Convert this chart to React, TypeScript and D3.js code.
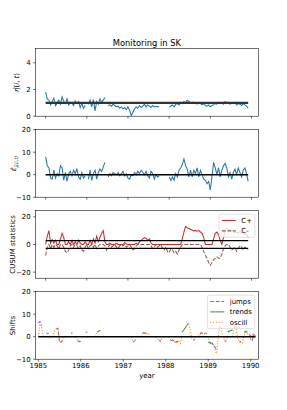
import React from "react";
import * as d3 from "d3";

const _ = null;

// upper three panels share a weekly index (every 2nd week kept)
const nWeeks = 247;
const weekIdx = d3.range(0, nWeeks, 2);
const weekTicks = [0, 50, 100, 150, 200, 250];

const etaHat = [
  1.8, 1.3, 1.2, 0.85, 1.1, 1.35, 0.8, 1.0, 1.2, 0.9, 1.45, 1.1, 0.95, 1.3, 0.85, 1.05, 1.0, 0.8, 1.15, 0.95, 1.1, 0.65, 0.95, 0.6,
  0.8, _,
  0.9, 1.2, 0.7, 1.25, 0.4, 1.1, 0.9, 1.3, 1.05, 1.2, 1.4,
  _,
  0.8, 0.85, 0.75, 0.9, 0.8, 0.7, 0.75, 0.6, 0.7, 0.55, 0.65, 0.5, 0.7, 0.45, 0.05, 0.3, 0.55, 0.7, 0.6, 0.8, 0.65, 0.75, 0.9, 0.7, 0.85, 0.75, 0.65, 0.8, 0.7, 0.75, 0.7, 0.72,
  _, _, _, _, _,
  0.7, 0.75, 0.85, 0.7, 0.9, 0.95, 0.85, 1.05, 0.95, 1.1, 1.0, 1.2, 1.1, 1.0, 1.05, 0.95, 1.0, 0.9, 1.0, 0.95,
  0.85, 0.95, 0.8, 0.75, 0.85, 0.7, 0.8, 0.85, 0.95, 0.9, 1.05, 0.95, 1.0, 0.9, 1.1, 1.0, 1.05, 0.9, 1.0, 0.95,
  1.05, 0.85, 0.95, 0.9, 0.8, 0.95, 0.85, 0.75, 0.6,
];

const epsHat = [
  8.0, 4.0, 3.0, -1.5, -2.0, 2.0, -1.5, 0.5, -0.5, 4.0, 3.0, -2.5, 1.0, -3.0, 0.5, 1.5, -0.5, 2.0, 0.5, 2.5, -1.0, -2.0, 1.0, -1.5,
  -0.5, _,
  -2.0, 2.0, -2.5, 0.5, 2.0, -2.0, 1.0, 2.5, 1.5, 3.5, 5.5,
  _,
  -1.0, 0.5, -0.5, 1.0, 0.5, 0.0, 1.0, -0.5, 0.5, 1.5, -0.5, 0.5, -1.5, -2.0, 0.0, -0.5, 1.0, 0.0, 1.5, 0.5, 2.0, 1.0, 0.0, 1.5, -0.5, -1.5, 1.5, 0.5, -2.0, 0.0, -1.0, -0.5,
  _, _, _, _, _,
  -1.0, -2.5, -1.0, -2.5, 0.5, -1.0, 2.0, 3.0, 4.5, 7.0, 4.0, 2.5, -1.0, 2.0, -1.0, 2.0, 0.5, 3.0, -1.0, 2.0,
  0.0, -2.0, -2.5, -4.0, -3.0, -6.8, -1.0, 5.5, 3.0, 0.0, 3.0, -1.0, 2.0, 4.0, 5.0, 3.0, -1.0, 1.0, -2.0, 1.0,
  2.5, 0.0, 3.0, 1.0, -1.0, 2.0, 3.0, 0.5, -3.0,
];

const cPlus = [
  0, 6, 10, 1, 3.5, 1, 3, 0, 0, 4,
  8, 5, 0, 0, 2, 0, 3, 0, 2, 0,
  3, 1, 0, 0, 2, 0, 0, 3, 0, 4,
  1, 6, 2, 5, 8, 10, 2, 0, 0, 1,
  0, 0, 0, 1, 0, 0, 0, 0, 1.5, 0.5,
  0, 0, 0, 0, 0, 1, 0, 2, 3, 4,
  5, 4.5, 3, 4, 1, 0, 0, 0, 0, 0,
  0, 0, 0, 0, 0, 0, 0, 0, 0, 0,
  0, 0, 0, 4, 9, 13, 12, 11.5, 11, 10.5,
  10, 10, 9.5, 10, 9, 8, 5, 0, 0, 0,
  0, 0, 4, 8, 9, 7, 3, 0, 5, 10,
  12, 11, 10, 10.5, 9, 8.5, 9, 8, 9.5, 8,
  9, 7, 8, 5,
];

const cMinus = [
  -8, -2, 0, -3, 0, -2, 0, -1, -3, 0,
  0, -2, -5, -6, -4, -1, 0, -2, 0, -1,
  -3, -1, -4, -5, -2, 0, -3, -1, 0, -2,
  0, -3, -1, 0, 0, 0, -1, -4, -2, 0,
  -2, -1, 0, -2, -3, -1, 0, -1, 0, -2,
  -1, 0, -2, -4, -3, -1, 0, 0, 0, 0,
  0, 0, 0, 0, -1, -3, -2, 0, -2, -1,
  0, -3, -4, -2, -5, -6, -3, -4, -6, -5,
  -7, -4, -2, 0, 0, 0, 0, 0, 0, 0,
  0, 0, 0, 0, 0, -2, -5, -8, -10, -13,
  -15, -13, -11, -10, -9, -10, -10, -7, -3, -1,
  0, 0, -2, -4, -3, -2, -5, -3, -1, -2,
  -4, -2, -3, -4,
];
const cusumLimit = 2.8;

// bottom panel: biweekly grid in decimal years
const shiftYears = d3.range(134).map(k => 1985 + (k * 2) / 52);
const yearTicks = [1985, 1986, 1987, 1988, 1989, 1990];

const jumps = [
  6.0, 6.8, 5.0, _, _, 1.8, 1.2, _, _, _,
  _, 3.5, 3.8, -2.5, -2.2, -1.8, _, _, _, _,
  1.5, 1.6, _, _, -1.8, -2.3, -2.0, _, _, 1.8,
  2.2, _, _, _, _, _, _, _, _, _,
  _, _, _, _, _, _, _, _, _, _,
  _, _, _, _, _, _, _, _, -2.5, -1.8,
  -1.0, _, _, _, 2.0, 1.5, 1.8, 1.2, _, _,
  _, _, _, _, -1.5, -2.2, _, _, _, _,
  _, -1.8, -1.5, -1.8, -2.5, -2.0, -2.8, _, _, _,
  _, 5.0, 5.8, _, _, -1.5, -1.2, _, _, 1.0,
  1.8, 1.2, 1.5, 1.5, _, -2.5, -3.0, -3.5, -4.5, -5.5,
  _, 4.5, 3.8, _, -1.8, -2.2, _, _, _, _,
  4.2, 4.8, _, -2.5, -2.0, _, _, _, _, 1.0,
  0.5, -1.5, 1.0, 0.5,
];

const trends = [
  _, _, _, _, _, _, _, _, _, _,
  _, _, _, _, _, _, _, _, _, _,
  _, _, _, _, _, _, _, _, _, _,
  _, _, _, _, _, _, 2.0, 2.5, 2.8, _,
  _, _, _, _, _, _, _, _, _, _,
  _, _, _, _, _, _, _, _, _, _,
  _, _, _, _, _, _, _, _, _, _,
  _, _, _, _, _, _, _, _, _, _,
  _, _, _, _, _, _, _, _, 2.0, 3.0,
  4.0, 5.0, _, _, _, _, _, _, _, _,
  _, _, _, _, -2.5, -2.8, -3.0, -2.8, _, _,
  _, _, _, _, _, _, 2.0, 2.5, 2.8, 3.0,
  _, _, _, _, _, _, 2.0, 2.5, 2.0, _,
  _, _, _, _,
];

const oscill = [
  0, 5.0, 4.0, 0, _, 0, 2.0, -1.0, _, 0,
  3.0, 3.5, 3.8, -2.0, -2.5, -1.5, 0, _, _, _,
  _, _, _, 0, -1.5, -2.0, -1.8, _, _, _,
  _, _, _, _, _, 0, 2.5, _, _, _,
  _, _, _, _, _, _, _, _, _, _,
  _, _, _, _, _, _, _, 0, -2.5, _,
  _, _, _, 0, 2.0, 1.5, 1.2, 1.5, 1.0, _,
  _, _, 0, -1.0, -1.5, -2.0, 0, _, _, _,
  0, -1.5, -1.2, -2.0, -2.8, -2.5, -2.0, -3.0, 0.5, _,
  _, 5.5, 6.0, 3.0, -1.0, -1.5, 0, 0, 0.5, 1.5,
  2.0, 1.0, 1.5, 1.5, -1.0, -2.5, -3.0, -3.0, -5.0, -7.5,
  -2.0, 5.0, 4.0, 0, -1.5, -1.5, 0, _, _, 0,
  4.0, 4.5, -1.0, -2.0, -2.5, -3.0, 0.5, 2.0, 1.5, 0.5,
  -1.0, 1.5, -1.5, _,
];

const W = 287;
const H = 410;
const left = 35.5;
const right = 258.3;
const pt = 50 / 72; // figure drawn at 50 dpi
const font = "DejaVu Sans, sans-serif";
const fs = 10 * pt;
const tickLen = 3.5 * pt;
const lw = 1.5 * pt;
const dashed = `${3.7 * lw} ${1.6 * lw}`;
const dotted = `${1 * lw} ${1.65 * lw}`;

const blue = "#1f77b4";
const red = "#d62728";
const brown = "#8c564b";
const purple = "#9467bd";
const green = "#2ca02c";
const orange = "#ff7f0e";

const tops = [48.7, 129.7, 210.7, 291.7];
const ph = 67.5;

const xIdx = d3
  .scaleLinear()
  .domain([-0.05 * (nWeeks - 1), (nWeeks - 1) * 1.05])
  .range([left, right]);
const xYear = d3.scaleLinear().domain([1984.934, 1990.18]).range([left, right]);

const fmt = (v: number) => d3.format("d")(v);

type LineSpec = { xs: number[]; ys: (number | null)[]; color: string; dash?: string; width?: number };

const Panel = ({ i, yDomain, yTicks, x, xTicks, xLabels, lines, hlines, ylabel, legend }: any) => {
  const top = tops[i];
  const bottom = top + ph;
  const y = d3.scaleLinear().domain(yDomain).range([bottom, top]);
  const clipId = `clip${i}`;
  return (
    <g>
      <defs>
        <clipPath id={clipId}>
          <rect x={left} y={top} width={right - left} height={ph} />
        </clipPath>
      </defs>
      <g clipPath={`url(#${clipId})`}>
        {lines.map((l: LineSpec, k: number) => {
          const gen = d3
            .line<number | null>()
            .defined(v => v != null)
            .x((_v, j) => x(l.xs[j]))
            .y(v => y(v as number));
          return (
            <path
              key={k}
              d={gen(l.ys) || ""}
              fill="none"
              stroke={l.color}
              strokeWidth={l.width || lw}
              strokeDasharray={l.dash}
            />
          );
        })}
        {hlines.map((h: any, k: number) => (
          <line
            key={"h" + k}
            x1={x(h.from)}
            x2={x(h.to)}
            y1={y(h.v)}
            y2={y(h.v)}
            stroke={h.color || "#000"}
            strokeWidth={h.width}
          />
        ))}
      </g>
      <rect x={left} y={top} width={right - left} height={ph} fill="none" stroke="#000" strokeWidth={0.8 * pt} />
      {yTicks.map((t: number) => (
        <g key={"y" + t}>
          <line x1={left - tickLen} x2={left} y1={y(t)} y2={y(t)} stroke="#000" strokeWidth={0.8 * pt} />
          <text x={left - tickLen - 3.5 * pt} y={y(t)} dy="0.35em" textAnchor="end" fontSize={fs} fontFamily={font}>
            {t < 0 ? "\u2212" + fmt(-t) : fmt(t)}
          </text>
        </g>
      ))}
      {xTicks.map((t: number) => (
        <g key={"x" + t}>
          <line x1={x(t)} x2={x(t)} y1={bottom} y2={bottom + tickLen} stroke="#000" strokeWidth={0.8 * pt} />
          {xLabels && (
            <text x={x(t)} y={bottom + 2 * tickLen + 3.9} textAnchor="middle" fontSize={fs} fontFamily={font}>
              {t}
            </text>
          )}
        </g>
      ))}
      {ylabel(top + ph / 2)}
      {legend && (
        <g>
          <rect
            x={right - 3.5 - legend.w}
            y={top + 3.5}
            width={legend.w}
            height={5.6 + legend.items.length * fs + (legend.items.length - 1) * fs * 0.5}
            rx={1.5}
            fill="#fff"
            fillOpacity={0.8}
            stroke="#cccccc"
            strokeWidth={0.8 * pt}
          />
          {legend.items.map((it: any, k: number) => {
            const cy = top + 3.5 + 2.8 + fs / 2 + k * fs * 1.5;
            const x0 = right - 3.5 - legend.w + 2.8;
            return (
              <g key={it.label}>
                <line x1={x0} x2={x0 + 2 * fs} y1={cy} y2={cy} stroke={it.color} strokeWidth={lw} strokeDasharray={it.dash} />
                <text x={x0 + 2 * fs + 0.8 * fs} y={cy} dy="0.35em" fontSize={fs} fontFamily={font}>
                  {it.label}
                </text>
              </g>
            );
          })}
        </g>
      )}
    </g>
  );
};

const rotLabel = (xb: number, content: any) => (cy: number) => (
  <text
    transform={`translate(${xb},${cy}) rotate(-90)`}
    textAnchor="middle"
    fontSize={fs}
    fontFamily={font}
  >
    {content}
  </text>
);

export default function App() {
  return (
    <svg width={W} height={H} style={{ position: "absolute", left: 0, top: 0, background: "#fff" }}>
      <rect width={W} height={H} fill="#fff" />
      <text x={(left + right) / 2} y={45.5} textAnchor="middle" fontSize={12 * pt} fontFamily={font}>
        Monitoring in SK
      </text>
      <Panel
        i={0}
        yDomain={[0, 5.06]}
        yTicks={[0, 2, 4]}
        x={xIdx}
        xTicks={weekTicks}
        xLabels={false}
        lines={[{ xs: weekIdx, ys: etaHat, color: blue }]}
        hlines={[{ v: 1, from: 0, to: nWeeks - 1, width: 3 * pt, color: "#333" }]}
        ylabel={rotLabel(
          19,
          <>
            <tspan fontStyle="italic">η̂</tspan>
            <tspan>(</tspan>
            <tspan fontStyle="italic">i</tspan>
            <tspan>, </tspan>
            <tspan fontStyle="italic">t</tspan>
            <tspan>)</tspan>
          </>
        )}
      />
      <Panel
        i={1}
        yDomain={[-10, 20]}
        yTicks={[-10, 0, 10, 20]}
        x={xIdx}
        xTicks={weekTicks}
        xLabels={false}
        lines={[{ xs: weekIdx, ys: epsHat, color: blue }]}
        hlines={[{ v: 0, from: 0, to: nWeeks - 1, width: 2 * pt }]}
        ylabel={rotLabel(
          16,
          <>
            <tspan fontStyle="italic">ε̂</tspan>
            <tspan fontSize={fs * 0.7} dy={2} fontStyle="italic">μ̂(i,t)</tspan>
          </>
        )}
      />
      <Panel
        i={2}
        yDomain={[-24.4, 24.4]}
        yTicks={[-20, 0, 20]}
        x={xIdx}
        xTicks={weekTicks}
        xLabels={false}
        lines={[
          { xs: weekIdx, ys: cPlus, color: red },
          { xs: weekIdx, ys: cMinus, color: brown, dash: dashed },
        ]}
        hlines={[
          { v: cusumLimit, from: 0, to: nWeeks - 1, width: 2 * pt },
          { v: -cusumLimit, from: 0, to: nWeeks - 1, width: 2 * pt },
        ]}
        ylabel={rotLabel(14.5, "CUSUM statistics")}
        legend={{
          w: 35.7,
          items: [
            { label: "C+", color: red },
            { label: "C-", color: brown, dash: dashed },
          ],
        }}
      />
      <Panel
        i={3}
        yDomain={[-10, 20]}
        yTicks={[-10, 0, 10, 20]}
        x={xYear}
        xTicks={yearTicks}
        xLabels={true}
        lines={[
          { xs: shiftYears, ys: jumps, color: purple, dash: dashed },
          { xs: shiftYears, ys: trends, color: green },
          { xs: shiftYears, ys: oscill, color: orange, dash: dotted },
        ]}
        hlines={[{ v: 0, from: 1985, to: shiftYears[shiftYears.length - 1], width: 2 * pt }]}
        ylabel={rotLabel(14.5, "Shifts")}
        legend={{
          w: 47.3,
          items: [
            { label: "jumps", color: purple, dash: dashed },
            { label: "trends", color: green },
            { label: "oscill", color: orange, dash: dotted },
          ],
        }}
      />
      <text x={(left + right) / 2} y={377.5} textAnchor="middle" fontSize={fs} fontFamily={font}>
        year
      </text>
    </svg>
  );
}
